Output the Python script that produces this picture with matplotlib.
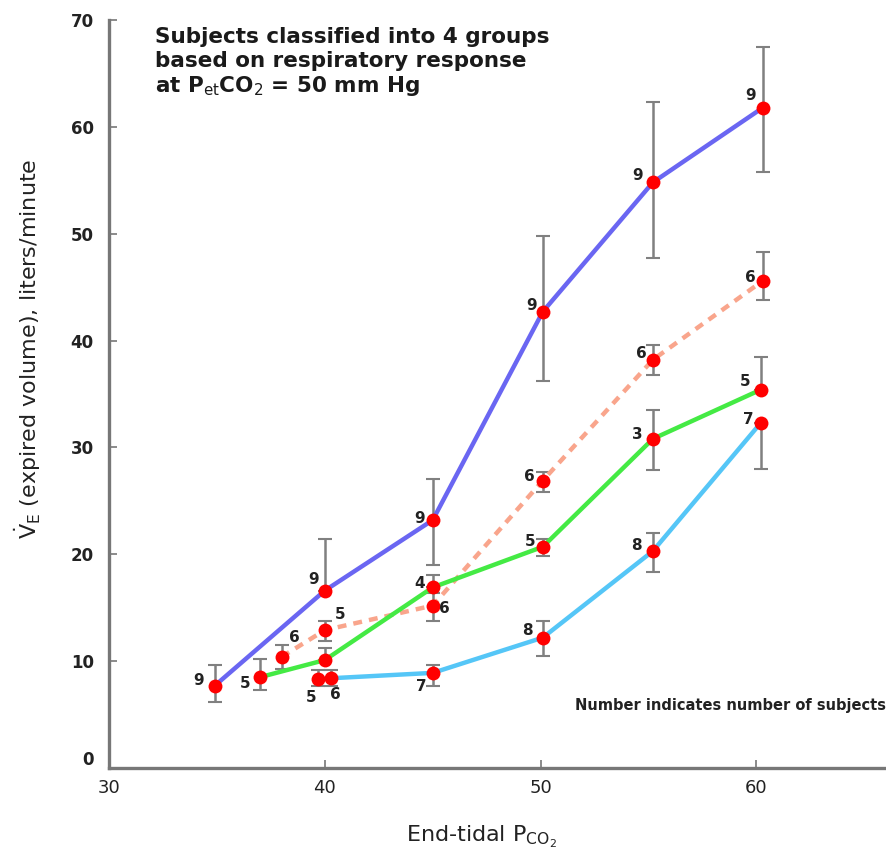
import matplotlib.pyplot as plt
from matplotlib.transforms import ScaledTranslation

plt.rcParams['font.family'] = ['DejaVu Sans']
plt.rcParams['mathtext.fontset'] = 'dejavusans'

# group data: end-tidal PCO2, ventilation, error (down, up), number of subjects
blue_x = [34.9, 40.0, 45.0, 50.1, 55.2, 60.3]
blue_y = [7.7, 16.6, 23.2, 42.7, 54.8, 61.8]
blue_lo = [1.5, 0.0, 4.2, 6.5, 7.1, 6.0]
blue_hi = [1.9, 4.8, 3.8, 7.1, 7.5, 5.7]
blue_n = ['9', '9', '9', '9', '9', '9']

pink_x = [38.0, 40.0, 45.0, 50.1, 55.2, 60.3]
pink_y = [10.4, 12.9, 15.2, 26.9, 38.2, 45.6]
pink_lo = [1.1, 1.0, 1.4, 1.1, 1.4, 1.8]
pink_hi = [1.1, 0.9, 1.2, 0.8, 1.4, 2.7]
pink_n = ['6', '5', '6', '6', '6', '6']

green_x = [37.0, 40.0, 45.0, 50.1, 55.2, 60.2]
green_y = [8.5, 10.1, 16.9, 20.7, 30.8, 35.4]
green_lo = [1.2, 0.0, 0.0, 0.9, 2.9, 0.0]
green_hi = [1.7, 1.1, 1.2, 0.7, 2.7, 3.1]
green_n = ['5', '', '4', '5', '3', '5']

cyan_x = [39.7, 40.3, 45.0, 50.1, 55.2, 60.2]
cyan_y = [8.3, 8.4, 8.9, 12.2, 20.3, 32.3]
cyan_lo = [0.6, 0.7, 1.2, 1.7, 2.0, 4.3]
cyan_hi = [0.9, 0.8, 0.7, 1.6, 1.7, 0.0]
cyan_n = ['5', '6', '7', '8', '8', '7']

x_ticks = [30, 40, 50, 60]
y_ticks = [0, 10, 20, 30, 40, 50, 60, 70]

# label offsets in pixels (style only)
blue_off = [(-16, 5), (-11, 11), (-13, 2), (-11, 6), (-15, 7), (-12, 12)]
pink_off = [(13, 19), (15, 16), (12, -3), (-13, 4), (-12, 6), (-13, 3)]
green_off = [(-15, -6), (0, 0), (-13, 4), (-13, 5), (-16, 4), (-16, 8)]
cyan_off = [(-7, -18), (4, -16), (-11, -14), (-15, 7), (-16, 6), (-13, 3)]

fig = plt.figure(figsize=(8.86, 8.52), dpi=100)
ax = fig.add_axes([0.123, 0.0986, 0.877, 0.878])

series = [
    (blue_x, blue_y, blue_lo, blue_hi, blue_n, blue_off, '#6a66f2', '-'),
    (pink_x, pink_y, pink_lo, pink_hi, pink_n, pink_off, '#f9a58c', (0, (2, 1.6))),
    (green_x, green_y, green_lo, green_hi, green_n, green_off, '#44ea44', '-'),
    (cyan_x, cyan_y, cyan_lo, cyan_hi, cyan_n, cyan_off, '#55c6f7', '-'),
]

for xs, ys, lo, hi, ns, offs, col, ls in series:
    ax.errorbar(xs, ys, yerr=[lo, hi], fmt='none', ecolor='#808080',
                elinewidth=1.8, capsize=5, capthick=1.5, zorder=2)
    ax.plot(xs, ys, color=col, lw=3.2, ls=ls, zorder=3, solid_capstyle='round')
    ax.plot(xs, ys, 'o', color='#ff0000', ms=10, mec='none', zorder=4)
    for x, y, n, off in zip(xs, ys, ns, offs):
        if n:
            ax.annotate(n, (x, y), xytext=off, textcoords='offset pixels',
                        ha='center', va='center', fontsize=11,
                        fontweight='bold', color='#222222', zorder=5)

ax.set_xlim(30, 66)
ax.set_ylim(0, 70)
ax.set_xticks(x_ticks)
ax.set_yticks(y_ticks)
ax.set_xticklabels([str(v) for v in x_ticks], fontsize=13)
ax.set_yticklabels([str(v) for v in y_ticks], fontsize=12, fontweight='bold')
ax.tick_params(direction='in', length=6, width=1.2, color='#777777',
               labelcolor='#222222')
ax.tick_params(axis='x', pad=8)
ax.tick_params(axis='y', pad=11)
# "0" label sits a little high in the original
lab0 = ax.get_yticklabels()[0]
lab0.set_transform(lab0.get_transform() + ScaledTranslation(0, 0.1, fig.dpi_scale_trans))

for s in ['top', 'right']:
    ax.spines[s].set_visible(False)
for s in ['left', 'bottom']:
    ax.spines[s].set_color('#777777')
    ax.spines[s].set_linewidth(2.4)

ax.set_xlabel(r'End-tidal P$_{\mathrm{CO_2}}$', fontsize=16, color='#222222')
ax.xaxis.set_label_coords(0.48, -0.075)
ax.set_ylabel(r'$\dot{\mathrm{V}}_{\mathrm{E}}$ (expired volume), liters/minute',
              fontsize=16, color='#222222')
ax.yaxis.set_label_coords(-0.085, 0.56)

ax.text(0.059, 0.99, 'Subjects classified into 4 groups\nbased on respiratory response\n'
        r'at P$_{\mathrm{et}}$CO$_2$ = 50 mm Hg',
        transform=ax.transAxes, ha='left', va='top', fontsize=15.5,
        fontweight='bold', color='#1a1a1a', linespacing=1.2)
ax.text(1.0, 0.083, 'Number indicates number of subjects', transform=ax.transAxes,
        ha='right', va='center', fontsize=10.5, fontweight='bold', color='#222222')

fig.savefig('out.png', dpi=100)
